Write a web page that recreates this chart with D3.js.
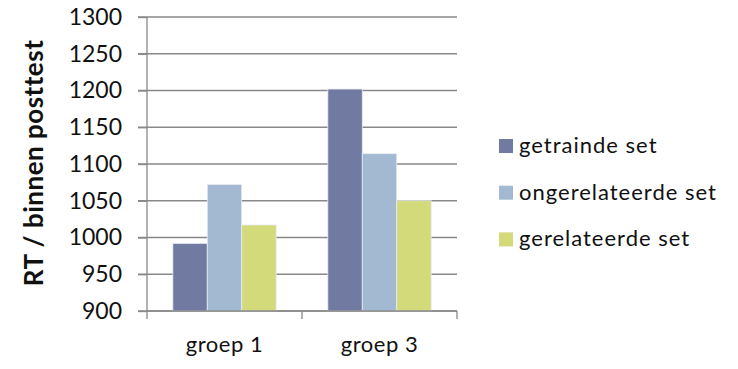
<!DOCTYPE html>
<html>
<head>
<meta charset="utf-8">
<script src="https://cdn.jsdelivr.net/npm/d3@7"></script>
<style>
  html, body { margin: 0; padding: 0; background: #fff; }
  svg { display: block; font-family: Lato, "Open Sans", sans-serif; }
</style>
</head>
<body>
<svg id="chart" width="738" height="369"></svg>
<script>
// Reaction times per group and stimulus set
const groups = ["groep 1", "groep 3"];
const seriesNames = ["getrainde set", "ongerelateerde set", "gerelateerde set"];
const getrainde = [992, 1202];
const ongerelateerde = [1072, 1114];
const gerelateerde = [1017, 1050];
const yTicks = [900, 950, 1000, 1050, 1100, 1150, 1200, 1250, 1300];
const colors = ["#717ba2", "#a2b9d1", "#d3da79"];

const seriesValues = [getrainde, ongerelateerde, gerelateerde];
const rows = groups.map((g, i) => ({
  group: g,
  values: seriesNames.map((s, j) => ({ series: s, value: seriesValues[j][i], color: colors[j] }))
}));

const svg = d3.select("#chart");
const plotLeft = 147, plotRight = 457, plotTop = 17, plotBottom = 311;

const x0 = d3.scaleBand().domain(groups).range([plotLeft, plotRight]).padding(0);
const x1 = d3.scaleBand().domain(seriesNames).range([0, x0.bandwidth()])
  .paddingInner(0).paddingOuter(0.75);
const y = d3.scaleLinear().domain([900, 1300]).range([plotBottom, plotTop]);

// Horizontal gridlines
svg.append("g")
  .selectAll("line")
  .data(yTicks)
  .join("line")
  .attr("x1", plotLeft - 9).attr("x2", plotRight)
  .attr("y1", d => y(d)).attr("y2", d => y(d))
  .attr("stroke", "#888").attr("stroke-width", 1.3);

// Bars
svg.append("g")
  .selectAll("g")
  .data(rows)
  .join("g")
  .attr("transform", d => `translate(${x0(d.group)},0)`)
  .selectAll("rect")
  .data(d => d.values)
  .join("rect")
  .attr("x", d => x1(d.series))
  .attr("width", x1.bandwidth())
  .attr("y", d => y(d.value))
  .attr("height", d => y(900) - y(d.value))
  .attr("fill", d => d.color)
  .attr("stroke", "#e8ecf2")
  .attr("stroke-width", 0.8);

// Y axis
const yAxis = svg.append("g")
  .attr("transform", `translate(${plotLeft},0)`)
  .call(d3.axisLeft(y).tickValues(yTicks).tickSize(9).tickFormat(d3.format("d")));
yAxis.select(".domain").attr("stroke", "#888").attr("stroke-width", 1.3)
  .attr("d", `M0,${plotTop}V${plotBottom}`);
yAxis.selectAll(".tick line").attr("stroke", "#888").attr("stroke-width", 1.3);
yAxis.selectAll(".tick text")
  .attr("x", -25)
  .attr("font-size", "23px")
  .attr("font-family", "Lato, sans-serif")
  .attr("fill", "#111");

// X axis
const xAxis = svg.append("g")
  .attr("transform", `translate(0,${plotBottom})`)
  .call(d3.axisBottom(x0).tickSize(0).tickFormat(d => d));
xAxis.select(".domain").attr("stroke", "#888").attr("stroke-width", 1.3)
  .attr("d", `M${plotLeft},0H${plotRight}`);
xAxis.selectAll(".tick text")
  .attr("y", 41)
  .attr("dy", 0)
  .attr("font-size", "22px")
  .attr("letter-spacing", "0.5px")
  .attr("font-family", "Lato, sans-serif")
  .attr("fill", "#111");
// Category separators below the axis
svg.append("g")
  .selectAll("line")
  .data([plotLeft, x0("groep 3"), plotRight])
  .join("line")
  .attr("x1", d => d).attr("x2", d => d)
  .attr("y1", plotBottom).attr("y2", plotBottom + 8)
  .attr("stroke", "#888").attr("stroke-width", 1.3);

// Y axis title
svg.append("text")
  .attr("transform", "translate(43,163) rotate(-90)")
  .attr("text-anchor", "middle")
  .attr("font-size", "26px")
  .attr("letter-spacing", "0.5px")
  .attr("font-weight", "bold")
  .attr("fill", "#111")
  .text("RT / binnen posttest");

// Legend
const legend = svg.append("g")
  .selectAll("g")
  .data(seriesNames)
  .join("g")
  .attr("transform", (d, i) => `translate(499,${153 + i * 46.7})`);
legend.append("rect")
  .attr("x", 0).attr("y", -14)
  .attr("width", 14).attr("height", 14)
  .attr("fill", (d, i) => colors[i]);
legend.append("text")
  .attr("x", 20).attr("y", 0)
  .attr("font-size", "22px")
  .attr("letter-spacing", "1px")
  .attr("fill", "#111")
  .text(d => d);
</script>
</body>
</html>
